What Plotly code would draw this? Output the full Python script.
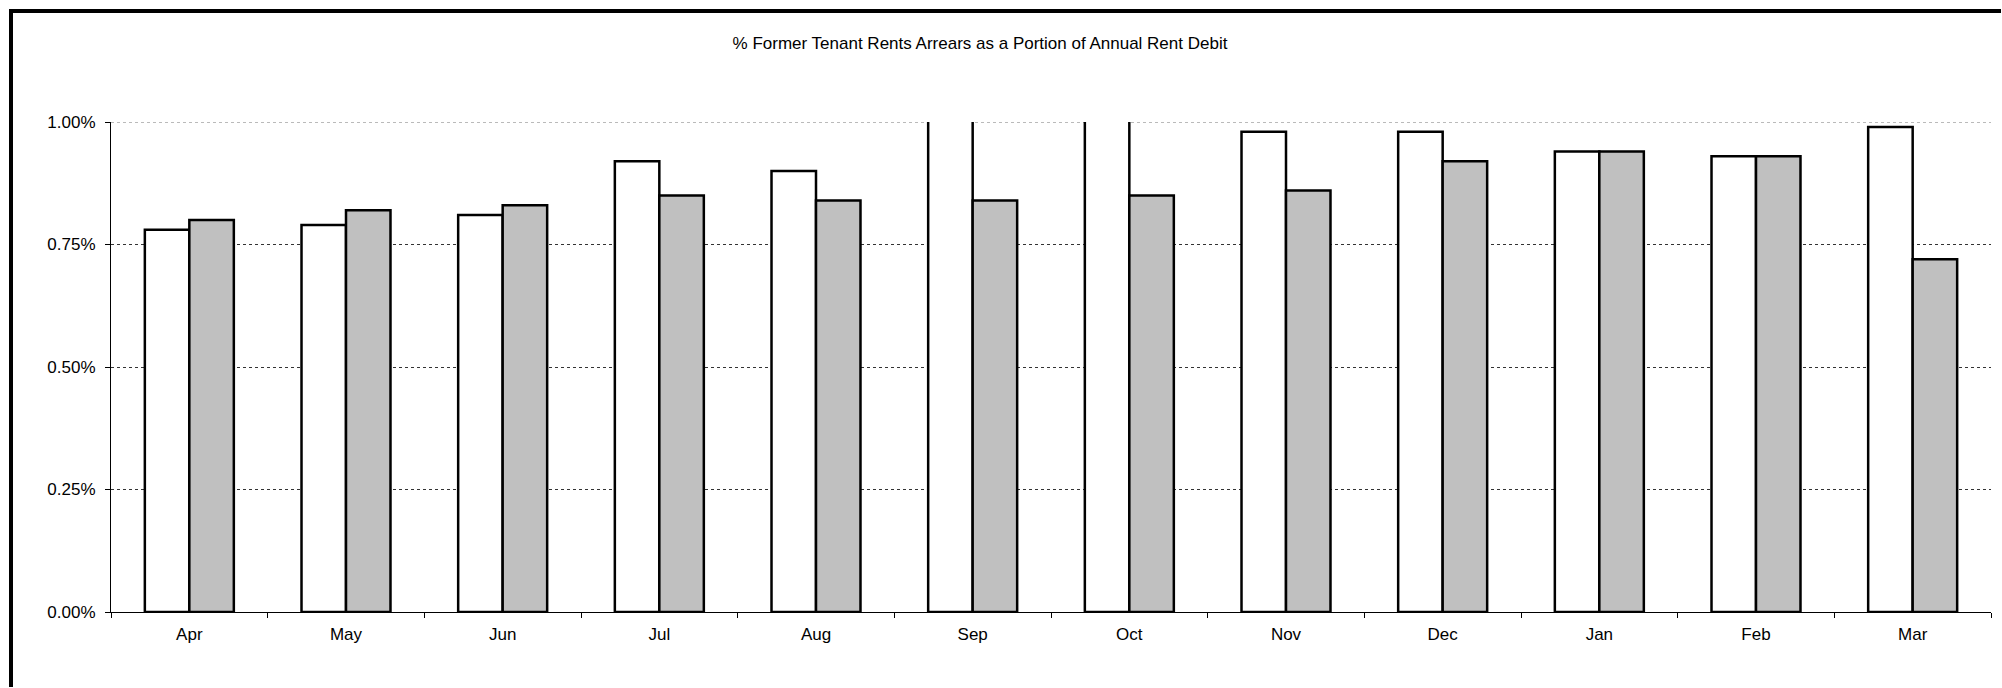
import plotly.graph_objects as go

months = ["Apr", "May", "Jun", "Jul", "Aug", "Sep", "Oct", "Nov", "Dec", "Jan", "Feb", "Mar"]
# values in percent (%)
series_a = [0.78, 0.79, 0.81, 0.92, 0.90, 1.10, 1.10, 0.98, 0.98, 0.94, 0.93, 0.99]
series_b = [0.80, 0.82, 0.83, 0.85, 0.84, 0.84, 0.85, 0.86, 0.92, 0.94, 0.93, 0.72]
y_ticks = [0.0, 0.25, 0.5, 0.75, 1.0]
title = "% Former Tenant Rents Arrears as a Portion of Annual Rent Debit"

W, H = 2002, 688
L, R, T, B = 111, 11, 122, 76
pw = W - L - R
ph = H - T - B

fig = go.Figure()
fig.add_trace(go.Bar(x=months, y=series_a, marker=dict(color="#FFFFFF", line=dict(color="#000000", width=2.5))))
fig.add_trace(go.Bar(x=months, y=series_b, marker=dict(color="#C0C0C0", line=dict(color="#000000", width=2.5))))

font = "Liberation Sans, Arial, sans-serif"
fig.update_layout(
    width=W, height=H,
    margin=dict(l=L, r=R, t=T, b=B, pad=0),
    paper_bgcolor="white", plot_bgcolor="white",
    showlegend=False,
    barmode="group", bargap=0.432, bargroupgap=0,
    font=dict(family=font, size=17, color="#000000"),
    title=dict(text=title, x=(980 - L) / pw, xanchor="center", xref="paper",
               y=1 - 43 / H, yanchor="middle", yref="container",
               font=dict(family=font, size=17, color="#000000")),
)
fig.update_xaxes(
    showline=True, linecolor="#000000", linewidth=1.2,
    ticks="outside", ticklen=5, tickcolor="#000000", tickwidth=1,
    tickson="boundaries", showgrid=False, ticklabelstandoff=6,
    tickfont=dict(family=font, size=17, color="#000000"),
)
fig.update_yaxes(
    range=[0, 1.0], tickvals=y_ticks,
    ticktext=[f"{v:.2f}%" for v in y_ticks],
    showline=True, linecolor="#000000", linewidth=1.2,
    ticks="outside", ticklen=5, tickcolor="#000000", tickwidth=1,
    showgrid=True, gridcolor="#333333", gridwidth=1, griddash="dot",
    zeroline=False, ticklabelstandoff=6,
    tickfont=dict(family=font, size=17, color="#000000"),
)

# top gridline at the range edge (Plotly omits it)
fig.add_shape(type="line", xref="paper", yref="y", x0=0, x1=1,
              y0=y_ticks[-1], y1=y_ticks[-1],
              line=dict(color="#777777", width=1, dash="dot"), layer="below")

# outer chart frame (cropped at right/bottom): top and left edges only
top_y = (H - B - 11) / ph
left_x = (11 - L) / pw
fig.add_shape(type="line", xref="paper", yref="paper",
              x0=left_x - 2 / pw, x1=(W - L - 1) / pw, y0=top_y, y1=top_y,
              line=dict(color="#000000", width=4), layer="above")
fig.add_shape(type="line", xref="paper", yref="paper",
              x0=left_x, x1=left_x, y0=top_y + 2 / ph, y1=-(B - 1) / ph,
              line=dict(color="#000000", width=4), layer="above")

fig.write_html("out.html")
